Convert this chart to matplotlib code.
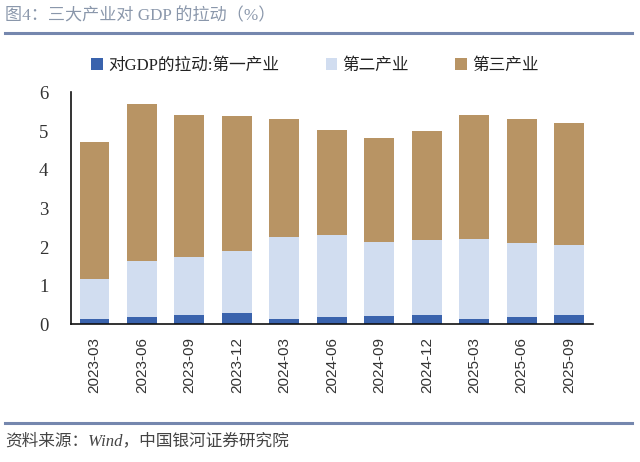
import matplotlib
matplotlib.use("Agg")
import matplotlib.pyplot as plt
import numpy as np

categories = ["2023-03", "2023-06", "2023-09", "2023-12", "2024-03", "2024-06",
              "2024-09", "2024-12", "2025-03", "2025-06", "2025-09"]
primary = [0.15, 0.19, 0.25, 0.29, 0.13, 0.18, 0.21, 0.25, 0.14, 0.18, 0.23]
secondary = [1.02, 1.46, 1.48, 1.60, 2.13, 2.12, 1.93, 1.94, 2.07, 1.93, 1.81]
tertiary = [3.54, 4.06, 3.69, 3.51, 3.05, 2.72, 2.68, 2.82, 3.20, 3.20, 3.17]
series_names = ["对GDP的拉动:第一产业", "第二产业", "第三产业"]
yticks = [0, 1, 2, 3, 4, 5, 6]

c1, c2, c3 = "#3A63AD", "#D1DDF0", "#B89464"
serif_cjk = ["Liberation Serif", "Noto Sans CJK SC"]

fig = plt.figure(figsize=(6.4, 4.62), dpi=100)
ax = fig.add_axes([0.1105, 0.298, 0.816, 0.502])

x = np.arange(len(categories))
p = np.array(primary)
s = np.array(secondary)
t = np.array(tertiary)
w = 0.63
ax.bar(x, p, w, color=c1, label=series_names[0], zorder=2)
ax.bar(x, s, w, bottom=p, color=c2, label=series_names[1], zorder=2)
ax.bar(x, t, w, bottom=p + s, color=c3, label=series_names[2], zorder=2)

ax.set_xlim(-0.5, 10.5)
ax.set_ylim(0, 6)
ax.set_yticks(yticks)
ax.set_yticklabels([str(v) for v in yticks], fontfamily="Liberation Serif",
                   fontsize=13.5, color="#333333")
ax.set_xticks(x)
ax.set_xticklabels(categories, rotation=90, fontfamily="Liberation Sans",
                   fontsize=11, color="#333333")
ax.tick_params(axis="y", length=0, pad=16)
ax.tick_params(axis="x", length=0, pad=9)
for side in ["top", "right"]:
    ax.spines[side].set_visible(False)
ax.spines["left"].set_linewidth(1.2)
ax.spines["bottom"].set_linewidth(1.2)
ax.spines["left"].set_color("#111111")
ax.spines["bottom"].set_color("#111111")

leg = fig.legend(loc="center", bbox_to_anchor=(0.492, 0.858), ncol=3, frameon=False,
                 prop={"family": serif_cjk, "size": 12}, handlelength=0.7,
                 handleheight=0.7, handletextpad=0.3, columnspacing=2.8)
for txt in leg.get_texts():
    txt.set_color("#222222")

fig.text(0.008, 0.965, "图4：三大产业对 GDP 的拉动（%）", fontsize=12.3,
         family=serif_cjk, color="#8A97AB", va="center", ha="left")
fig.add_artist(plt.Line2D([0.008, 0.988], [0.928, 0.928], color="#7587AE",
                          linewidth=2.2, transform=fig.transFigure))
fig.add_artist(plt.Line2D([0.008, 0.988], [0.084, 0.084], color="#7587AE",
                          linewidth=2.2, transform=fig.transFigure))
fig.text(0.008, 0.045, "资料来源：Wind，中国银河证券研究院", fontsize=12,
         family=serif_cjk, style="italic", color="#444444", va="center", ha="left")

fig.savefig("out.png", dpi=100)
